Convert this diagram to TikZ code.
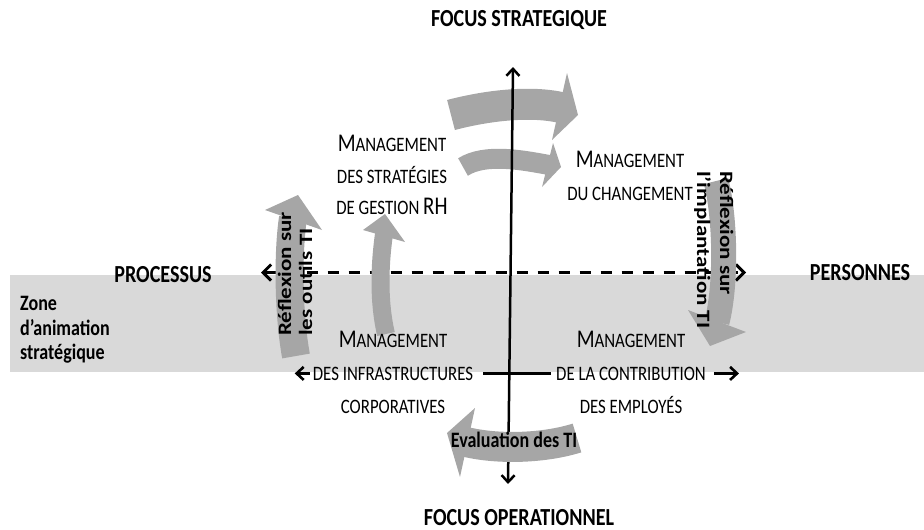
\documentclass[tikz,border=0pt]{standalone}
\usepackage{fontspec}
\setmainfont{Carlito}
\usetikzlibrary{arrows.meta}
\definecolor{bandgrey}{RGB}{217,217,217}
\definecolor{arrgrey}{RGB}{166,166,166}
\newcommand\BigC[1]{{\fontsize{25.5pt}{25.5pt}\selectfont #1}}
\begin{document}
\begin{tikzpicture}[x=1pt,y=-1pt,
  barb/.tip={Straight Barb[length=7pt,width=13pt]},
  bigbarb/.tip={Straight Barb[length=8pt,width=16pt]},
  txt/.style={inner sep=0pt, xscale=0.82},
  lab/.style={txt, font=\bfseries\fontsize{24.5pt}{25pt}\selectfont, anchor=base},
  sublab/.style={txt, font=\bfseries\fontsize{22pt}{22pt}\selectfont},
  mgt/.style={txt, font=\fontsize{20.5pt}{20.5pt}\selectfont, anchor=base},
  vlab/.style={inner sep=0pt, font=\bfseries\fontsize{23pt}{23pt}\selectfont, anchor=base west},
  shaft/.style={draw=arrgrey, line cap=butt},
  head/.style={fill=arrgrey},
  hline/.style={line width=2.6pt, black}
]
\useasboundingbox (0,0) rectangle (924,530);
% band
\fill[bandgrey] (10,275) rectangle (924,372);
% dashed axis
\coordinate (dl) at (261,272.5);
\coordinate (dr) at (746,272.5);
\draw[line width=3pt, dash pattern=on 11pt off 10pt, bigbarb-bigbarb] (dl) -- (dr);
% top arrows
\draw[shaft, line width=31pt] (451,115) .. controls (485,106) and (530,100) .. (563,108);
\fill[head] (567,73) -- (578,115) -- (552,140) -- cycle;
\draw[shaft, line width=20pt] (463,167) .. controls (485,153) and (522,160) .. (549,165);
\fill[head] (553,143) -- (561,167) -- (542,187) -- cycle;
% vertical axis
\coordinate (vt) at (513,67);
\coordinate (vb) at (508,484);
\draw[line width=2.5pt, barb-barb] (vb) -- (vt);
% bottom arrow
\draw[shaft, line width=30pt] (577,438) .. controls (545,448) and (500,450) .. (466,442);
\fill[head] (475,408) -- (447,433) -- (460,477) -- cycle;
% inner left arrow
\draw[shaft, line width=18pt] (386,334) .. controls (378,300) and (380,262) .. (384,234);
\fill[head] (363,230) -- (385,214) -- (405,242) -- cycle;
% left reflexion arrow
\draw[shaft, line width=28pt] (296,356) .. controls (288,312) and (288,250) .. (293,218);
\fill[head] (265,210) -- (298,195) -- (322,230) -- cycle;
% right reflexion arrow
\draw[shaft, line width=25pt] (716,181) .. controls (725,215) and (727,282) .. (717,322);
\fill[head] (688,310) -- (710,346) -- (746,332) -- cycle;
% labels
\node[lab] (fs) at (519,27) {FOCUS STRATEGIQUE};
\node[lab] (fo) at (519,525) {FOCUS OPERATIONNEL};
\node[lab] (proc) at (163,282) {PROCESSUS};
\node[lab] (pers) at (860,280) {PERSONNES};
\node[sublab, anchor=base west] (z1) at (20,310) {Zone};
\node[sublab, anchor=base west] (z2) at (20,335) {d’animation};
\node[sublab, anchor=base west] (z3) at (20,359) {stratégique};
\node[sublab, anchor=base] (eval) at (514,447) {Evaluation des TI};
% management texts
\node[mgt] (a1) at (392,151) {\BigC{M}ANAGEMENT};
\node[mgt] (a2) at (392,183) {DES STRATÉGIES};
\node[mgt] (a3) at (392,214) {DE GESTION \BigC{RH}};
\node[mgt] (b1) at (630,167) {\BigC{M}ANAGEMENT};
\node[mgt] (b2) at (630,200) {DU CHANGEMENT};
\node[mgt] (c1) at (393,347) {\BigC{M}ANAGEMENT};
\node[mgt] (infra) at (393,380) {DES INFRASTRUCTURES};
\node[mgt] (c3) at (393,413) {CORPORATIVES};
\node[mgt] (d1) at (631,347) {\BigC{M}ANAGEMENT};
\node[mgt] (contrib) at (631,380) {DE LA CONTRIBUTION};
\node[mgt] (d3) at (631,413) {DES EMPLOYÉS};
% rotated texts
\node[vlab, rotate=90, yscale=0.82] (r1) at (291,336) {Réflexion sur};
\node[vlab, rotate=90, yscale=0.82] (r2) at (312,336) {les outils TI};
\node[vlab, rotate=-90, yscale=0.82] (r3) at (720,171) {Réflexion sur};
\node[vlab, rotate=-90, yscale=0.82] (r4) at (697,171) {l’implantation TI};
% solid horizontal line
\draw[hline, -barb] ([xshift=-3pt]infra.west) -- ([xshift=-18pt]infra.west);
\draw[hline] ([xshift=10pt]infra.east) -- ([xshift=-5pt]contrib.west);
\draw[hline, -barb] ([xshift=8pt]contrib.east) -- ([xshift=33pt]contrib.east);
\end{tikzpicture}
\end{document}
